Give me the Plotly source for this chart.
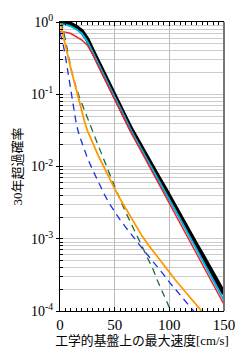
import plotly.graph_objects as go

v = [0, 5, 10, 15, 20, 25, 30, 35, 40, 45, 50, 55, 60, 65, 70, 75, 80, 85, 90, 95,
     100, 105, 110, 115, 120, 125, 130, 135, 140, 145, 150]

# log10 of exceedance probability
total_log = [0.0, -0.005, -0.03, -0.07, -0.13, -0.24, -0.40, -0.56, -0.72, -0.87, -1.02,
             -1.17, -1.33, -1.48, -1.62, -1.76, -1.89, -2.02, -2.15, -2.28, -2.42, -2.55,
             -2.69, -2.82, -2.96, -3.09, -3.22, -3.36, -3.49, -3.62, -3.76]
cyan_log = [-0.03, -0.035, -0.06, -0.10, -0.16, -0.27, -0.42, -0.58, -0.74, -0.89, -1.04,
            -1.19, -1.35, -1.50, -1.64, -1.78, -1.92, -2.05, -2.18, -2.32, -2.46, -2.59,
            -2.73, -2.87, -3.01, -3.14, -3.28, -3.42, -3.56, -3.70, -3.85]
red_log = [-0.135, -0.14, -0.16, -0.20, -0.25, -0.32, -0.45, -0.61, -0.77, -0.92, -1.07,
           -1.22, -1.38, -1.53, -1.67, -1.81, -1.95, -2.08, -2.22, -2.35, -2.49, -2.63,
           -2.77, -2.91, -3.05, -3.19, -3.33, -3.47, -3.61, -3.76, -3.91]

v_fine = [0, 2.5, 5, 7.5, 10, 12.5, 15, 17.5, 20, 22.5, 25, 30, 35, 40, 45, 50, 55, 60,
          65, 70, 75, 80, 85, 90, 95, 100, 105, 110, 115, 120, 125, 130]
green_log = [0.0, -0.08, -0.25, -0.45, -0.64, -0.79, -0.92, -1.03, -1.13, -1.23, -1.33,
             -1.52, -1.71, -1.90, -2.09, -2.28, -2.46, -2.63, -2.79, -2.96, -3.11, -3.26,
             -3.42, -3.61, -3.79, -3.95, -4.10, None, None, None, None, None]
blue_log = [-0.15, -0.28, -0.48, -0.72, -0.98, -1.22, -1.42, -1.56, -1.67, -1.78, -1.88,
            -2.05, -2.22, -2.37, -2.51, -2.63, -2.74, -2.84, -2.93, -3.03, -3.13, -3.22,
            -3.31, -3.41, -3.50, -3.60, -3.69, -3.79, -3.88, -3.97, -4.05, None]
orange_log = [0.0, -0.15, -0.32, -0.49, -0.65, -0.80, -0.95, -1.10, -1.25, -1.38, -1.50,
              -1.68, -1.85, -2.00, -2.16, -2.31, -2.45, -2.58, -2.71, -2.84, -2.96, -3.07,
              -3.17, -3.27, -3.37, -3.47, -3.56, -3.65, -3.74, -3.83, -3.92, -4.01]

y_tickvals = [1, 0.1, 0.01, 0.001, 0.0001]
y_ticktext = ["10<sup>0</sup>", "10<sup>-1</sup>", "10<sup>-2</sup>", "10<sup>-3</sup>", "10<sup>-4</sup>"]
x_tickvals = [0, 50, 100, 150]

xlabel = "工学的基盤上の最大速度[cm/s]"
ylabel = "30年超過確率"


def to_p(arr):
    return [None if a is None else 10 ** a for a in arr]


fig = go.Figure()
fig.add_trace(go.Scatter(x=v, y=to_p(total_log), mode="lines",
                         line=dict(color="black", width=4.5)))
fig.add_trace(go.Scatter(x=v, y=to_p(cyan_log), mode="lines",
                         line=dict(color="#00b4e6", width=2)))
fig.add_trace(go.Scatter(x=v, y=to_p(red_log), mode="lines",
                         line=dict(color="#e8262a", width=1.5)))
fig.add_trace(go.Scatter(x=v_fine, y=to_p(green_log), mode="lines",
                         line=dict(color="#1a6b3c", width=1.3, dash="7px,5px")))
fig.add_trace(go.Scatter(x=v_fine, y=to_p(blue_log), mode="lines",
                         line=dict(color="#1f2ee0", width=1.3, dash="7px,5px")))
fig.add_trace(go.Scatter(x=v_fine, y=to_p(orange_log), mode="lines",
                         line=dict(color="#ff9900", width=1.8)))

serif = "'Liberation Serif', 'Times New Roman', serif"
cjk = "'Liberation Serif', 'Noto Sans CJK JP', serif"

fig.update_layout(
    width=247, height=357,
    margin=dict(l=60, r=21, t=16, b=46),
    paper_bgcolor="white", plot_bgcolor="white",
    showlegend=False,
    font=dict(family=serif, size=13, color="black"),
    xaxis=dict(
        range=[0, 150], tickvals=x_tickvals, ticks="inside", ticklen=4,
        tickcolor="black", showline=True, linecolor="black", linewidth=1.2,
        mirror="allticks", showgrid=True, gridcolor="#bbbbbb", gridwidth=1,
        zeroline=False,
        minor=dict(dtick=5, ticks="inside", ticklen=2.5, tickcolor="black", showgrid=False),
        title=dict(text=xlabel, font=dict(family=cjk, size=12.8), standoff=1),
        tickfont=dict(family=serif, size=15),
    ),
    yaxis=dict(
        type="log", range=[-4, 0], tickvals=y_tickvals, ticktext=y_ticktext,
        ticks="outside", ticklen=3, tickcolor="black",
        showline=True, linecolor="black", linewidth=1.2,
        showgrid=True, gridcolor="#cccccc", gridwidth=1, zeroline=False,
        minor=dict(dtick="D1", ticks="inside", ticklen=3, tickcolor="black",
                   showgrid=True, gridcolor="#cccccc", gridwidth=1),
        title=dict(text=ylabel, font=dict(family=cjk, size=13), standoff=5),
        tickfont=dict(family=serif, size=14),
    ),
    shapes=[dict(type="line", xref="paper", yref="paper", x0=1, x1=1, y0=0, y1=1,
                 line=dict(color="#777777", width=2))],
)

fig.write_html("out.html")
